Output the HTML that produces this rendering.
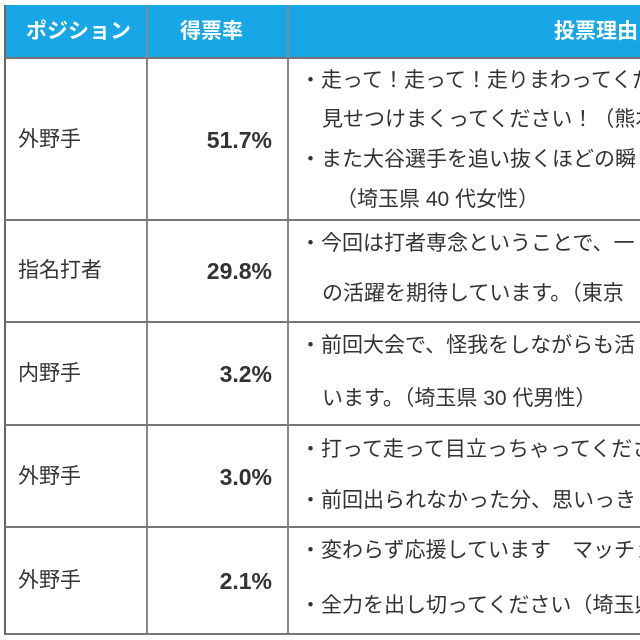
<!DOCTYPE html>
<html><head><meta charset="utf-8"><style>
html,body{margin:0;width:640px;height:640px;overflow:hidden;background:#fff}
#w{position:absolute;left:0;top:0;width:640px;height:640px;overflow:hidden;font-family:"Liberation Sans","Noto Sans CJK JP",sans-serif;color:#333}
.h{position:absolute;top:5px;left:5px;width:635px;height:53px;background:#17a7e6}
.t{position:absolute;white-space:nowrap;font-size:21px;line-height:24px}
.c{overflow:hidden;right:0}
.hd{color:#fff;font-weight:bold;font-size:21px}
.n{font-weight:bold;font-size:23px;text-align:right;width:200px;left:72px}
.v{position:absolute;top:5px;width:2px;height:630px;background:#666}
.hl{position:absolute;left:5px;width:635px;height:2px;background:#777}
</style></head><body><div id="w">
<div class="h"></div>
<div class="v" style="left:4px"></div>
<div class="v" style="left:146px;background:#888"></div>
<div class="v" style="left:287px;background:#888"></div>
<div class="hl" style="top:57px"></div>
<div class="hl" style="top:219px"></div>
<div class="hl" style="top:321px"></div>
<div class="hl" style="top:424px"></div>
<div class="hl" style="top:526px"></div>
<div class="hl" style="top:633px"></div>
<div class="t hd" style="left:26px;top:20px">ポジション</div>
<div class="t hd" style="left:180px;top:20px">得票率</div>
<div class="t hd c" style="left:554px;top:20px">投票理由</div>

<div class="t" style="left:18px;top:128px">外野手</div>
<div class="t n" style="top:128px">51.7%</div>
<div class="t c" style="left:300px;top:69px">・走って！走って！走りまわってください</div>
<div class="t c" style="left:322px;top:108px">見せつけまくってください！（熊本</div>
<div class="t c" style="left:300px;top:148px">・また大谷選手を追い抜くほどの瞬</div>
<div class="t c" style="left:336px;top:188px">（埼玉県 40 代女性）</div>

<div class="t" style="left:18px;top:259px">指名打者</div>
<div class="t n" style="top:259px">29.8%</div>
<div class="t c" style="left:300px;top:232px">・今回は打者専念ということで、一</div>
<div class="t c" style="left:322px;top:282px">の活躍を期待しています。（東京</div>

<div class="t" style="left:18px;top:362px">内野手</div>
<div class="t n" style="top:362px">3.2%</div>
<div class="t c" style="left:300px;top:334px">・前回大会で、怪我をしながらも活</div>
<div class="t c" style="left:322px;top:387px">います。（埼玉県 30 代男性）</div>

<div class="t" style="left:18px;top:465px">外野手</div>
<div class="t n" style="top:465px">3.0%</div>
<div class="t c" style="left:300px;top:438px">・打って走って目立っちゃってください</div>
<div class="t c" style="left:300px;top:489px">・前回出られなかった分、思いっきり</div>

<div class="t" style="left:18px;top:569px">外野手</div>
<div class="t n" style="top:569px">2.1%</div>
<div class="t c" style="left:300px;top:539px">・変わらず応援しています　マッチョマン</div>
<div class="t c" style="left:300px;top:594px">・全力を出し切ってください（埼玉県</div>
</div></body></html>
